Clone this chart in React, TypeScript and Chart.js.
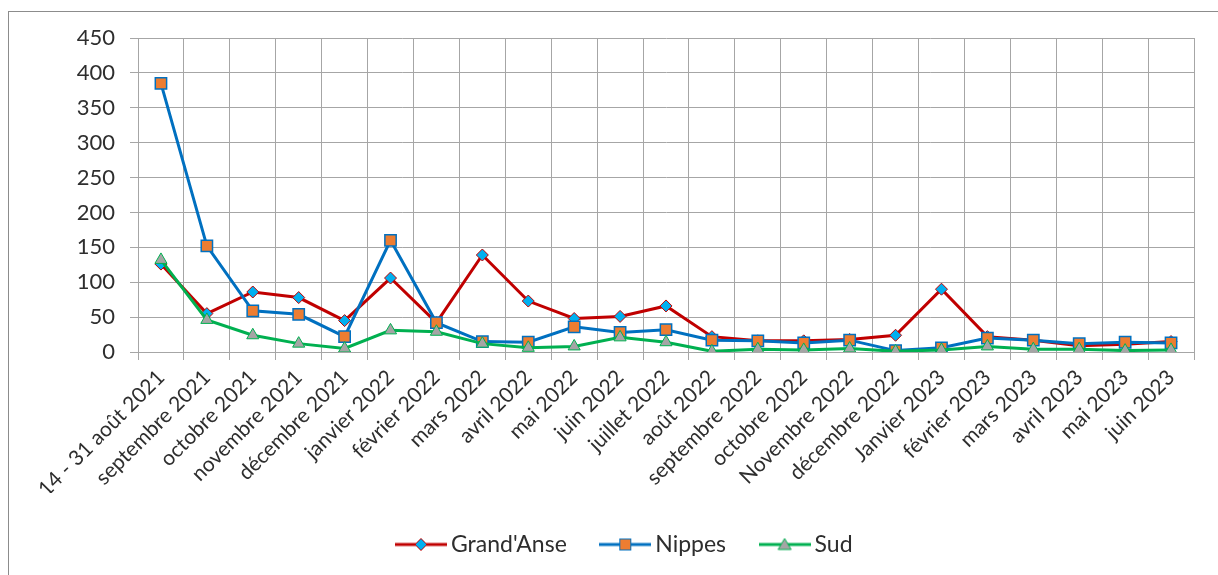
import React, { useEffect, useRef } from 'react';
import { Chart, registerables } from 'chart.js';

Chart.register(...registerables);

const categories = [
  '14 - 31 août 2021', 'septembre 2021', 'octobre 2021', 'novembre 2021', 'décembre 2021',
  'janvier 2022', 'février 2022', 'mars 2022', 'avril 2022', 'mai 2022', 'juin 2022',
  'juillet 2022', 'août 2022', 'septembre 2022', 'octobre 2022', 'Novembre 2022',
  'décembre 2022', 'Janvier 2023', 'février 2023', 'mars 2023', 'avril 2023', 'mai 2023', 'juin 2023',
];

const grandAnse = [126, 55, 86, 78, 45, 106, 42, 139, 73, 48, 51, 66, 22, 16, 16, 18, 24, 90, 22, 17, 9, 11, 15];
const nippes = [385, 152, 59, 54, 22, 160, 42, 15, 14, 36, 28, 32, 17, 16, 13, 17, 2, 6, 20, 17, 12, 14, 13];
const sud = [132, 46, 24, 12, 5, 31, 29, 12, 6, 8, 21, 14, 1, 4, 3, 5, 1, 3, 8, 4, 4, 2, 3];

const seriesNames = ["Grand'Anse", 'Nippes', 'Sud'];
const yMin = 0;
const yMax = 450;
const yStep = 50;

const RED = '#C00000';
const BLUE = '#0070C0';
const GREEN = '#00B050';
const GRID = '#a6a6a6';
const TEXT = '#2e2e2e';

function legendImage(kind: string): HTMLCanvasElement {
  const c = document.createElement('canvas');
  c.width = 52;
  c.height = 18;
  const ctx = c.getContext('2d')!;
  const cy = 9;
  const cx = 26;
  const lineColor = kind === 'diamond' ? RED : kind === 'square' ? BLUE : GREEN;
  ctx.strokeStyle = lineColor;
  ctx.lineWidth = 3;
  ctx.beginPath();
  ctx.moveTo(0, cy);
  ctx.lineTo(52, cy);
  ctx.stroke();
  ctx.lineWidth = 1;
  if (kind === 'diamond') {
    ctx.fillStyle = '#00B0F0';
    ctx.strokeStyle = RED;
    ctx.beginPath();
    ctx.moveTo(cx, cy - 6);
    ctx.lineTo(cx + 6, cy);
    ctx.lineTo(cx, cy + 6);
    ctx.lineTo(cx - 6, cy);
    ctx.closePath();
    ctx.fill();
    ctx.stroke();
  } else if (kind === 'square') {
    ctx.fillStyle = '#ED7D31';
    ctx.strokeStyle = BLUE;
    ctx.fillRect(cx - 5.5, cy - 5.5, 11, 11);
    ctx.strokeRect(cx - 5.5, cy - 5.5, 11, 11);
  } else {
    ctx.fillStyle = '#A5A5A5';
    ctx.strokeStyle = GREEN;
    ctx.beginPath();
    ctx.moveTo(cx, cy - 6);
    ctx.lineTo(cx + 6.5, cy + 5);
    ctx.lineTo(cx - 6.5, cy + 5);
    ctx.closePath();
    ctx.fill();
    ctx.stroke();
  }
  return c;
}

export default function App() {
  const ref = useRef<HTMLCanvasElement | null>(null);

  useEffect(() => {
    if (!ref.current) return;
    const imgs = [legendImage('diamond'), legendImage('square'), legendImage('triangle')];
    const chart = new Chart(ref.current, {
      type: 'line',
      data: {
        labels: categories,
        datasets: [
          {
            label: seriesNames[0],
            data: grandAnse,
            borderColor: RED,
            borderWidth: 3,
            pointStyle: 'rectRot',
            pointRadius: 6,
            pointBackgroundColor: '#00B0F0',
            pointBorderColor: RED,
            pointBorderWidth: 1,
            tension: 0,
            order: 2,
          },
          {
            label: seriesNames[1],
            data: nippes,
            borderColor: BLUE,
            borderWidth: 3,
            pointStyle: 'rect',
            pointRadius: 8,
            pointBackgroundColor: '#ED7D31',
            pointBorderColor: BLUE,
            pointBorderWidth: 1.5,
            tension: 0,
            order: 1,
          },
          {
            label: seriesNames[2],
            data: sud,
            borderColor: GREEN,
            borderWidth: 3,
            pointStyle: 'triangle',
            pointRadius: 7,
            pointBackgroundColor: '#A5A5A5',
            pointBorderColor: GREEN,
            pointBorderWidth: 1,
            tension: 0,
            order: 0,
          },
        ],
      },
      options: {
        animation: false,
        responsive: false,
        devicePixelRatio: 1,
        layout: { padding: { left: 52, right: 24, top: 26, bottom: 9 } },
        font: { family: 'Lato' },
        plugins: {
          tooltip: { enabled: false },
          legend: {
            position: 'bottom',
            labels: {
              usePointStyle: true,
              pointStyleWidth: 37,
              padding: 40,
              color: TEXT,
              font: { family: 'Lato', size: 23 },
              sort: (a: any, b: any) => a.datasetIndex - b.datasetIndex,
              generateLabels: (ch: any) => {
                const items = Chart.defaults.plugins.legend.labels.generateLabels(ch);
                return items.map((it: any) => ({ ...it, pointStyle: imgs[it.datasetIndex], rotation: 0 }));
              },
            },
          },
        },
        scales: {
          x: {
            type: 'category',
            offset: true,
            grid: { offset: true, color: GRID, lineWidth: 1, tickLength: 8, drawTicks: true },
            border: { color: GRID, width: 1 },
            ticks: {
              autoSkip: false,
              maxRotation: 45,
              minRotation: 45,
              padding: 5,
              color: TEXT,
              font: { family: 'Lato', size: 21 },
            },
            afterFit: (s: any) => {
              s.height = 141;
              s.paddingLeft = 0;
              s.paddingRight = 0;
            },
          },
          y: {
            min: yMin,
            max: yMax,
            ticks: {
              stepSize: yStep,
              padding: 15,
              color: TEXT,
              font: { family: 'Lato', size: 22 },
            },
            grid: { color: GRID, lineWidth: 1, tickLength: 8 },
            border: { color: GRID, width: 1 },
            afterFit: (s: any) => {
              s.width = 77;
              s.paddingTop = 0;
              s.paddingBottom = 0;
            },
          },
        },
      },
    } as any);
    return () => chart.destroy();
  }, []);

  return (
    <div
      style={{
        position: 'fixed',
        left: 8,
        top: 11,
        width: 1210,
        height: 564,
        borderTop: '1px solid #8c8c8c',
        borderLeft: '1px solid #8c8c8c',
        background: '#fff',
      }}
    >
      <canvas ref={ref} width={1209} height={563} style={{ display: 'block' }} />
    </div>
  );
}
